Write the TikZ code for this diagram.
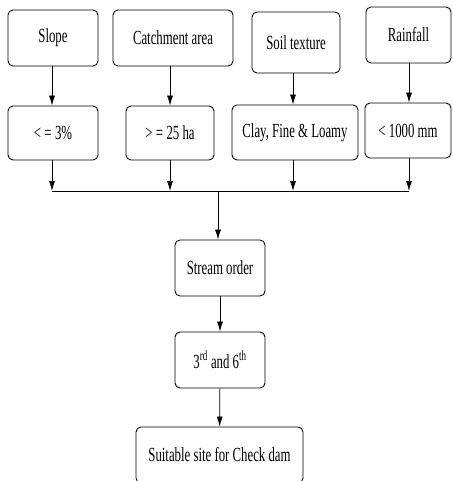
\documentclass[tikz,border=0pt]{standalone}
\usepackage{fontspec}
\setmainfont{Liberation Serif}[FakeStretch=0.64]
\usetikzlibrary{arrows.meta}
\tikzset{
  box/.style={draw, rounded corners=5pt, line width=0.9pt, align=center,
    inner sep=0pt, font=\fontsize{20}{22}\selectfont},
  flow/.style={line width=0.7pt, -{Latex[length=10pt,width=6pt]}}
}
\begin{document}
\begin{tikzpicture}[x=1pt,y=-1pt]
                \useasboundingbox (0,0) rectangle (452,481);

                \node[box, minimum width=90pt, minimum height=56pt] (slope) at (53, 38) {Slope};
                \node[box, minimum width=120pt, minimum height=56pt] (catch) at (173, 38) {Catchment area};
                \node[box, minimum width=88pt, minimum height=61pt] (soil) at (296, 42.5) {Soil texture};
                \node[box, minimum width=85pt, minimum height=56pt] (rain) at (408.5, 35) {Rainfall};

                \node[box, minimum width=90pt, minimum height=54pt] (slopeval) at (53, 133) {<\,=\,3\%};
                \node[box, minimum width=88pt, minimum height=54pt] (catchval) at (170, 133) {>\,=\,25 ha};
                \node[box, minimum width=126pt, minimum height=55pt] (soilval) at (295, 132.5) {Clay, Fine \& Loamy};
                \node[box, minimum width=86pt, minimum height=55pt] (rainval) at (408, 130.5) {<\,1000 mm};

                \node[box, minimum width=90pt, minimum height=56pt] (stream) at (220, 268) {Stream order};
                \node[box, minimum width=90pt, minimum height=56pt] (order) at (220, 360) {3\textsuperscript{rd} and 6\textsuperscript{th}};
                \node[box, minimum width=167pt, minimum height=56pt] (site) at (219.5, 455) {Suitable site for Check dam};

                \coordinate (j1) at (52, 191);
                \coordinate (j2) at (170, 191);
                \coordinate (j3) at (293, 191);
                \coordinate (j4) at (409, 191);
                \coordinate (jm) at (218, 191);

                \draw[flow] (slope.south -| j1) -- (slopeval.north -| j1);
                \draw[flow] (catch.south -| j2) -- (catchval.north -| j2);
                \draw[flow] (soil.south -| j3) -- (soilval.north -| j3);
                \draw[flow] (rain.south -| j4) -- (rainval.north -| j4);

                \draw[flow] (slopeval.south -| j1) -- (j1);
                \draw[flow] (catchval.south -| j2) -- (j2);
                \draw[flow] (soilval.south -| j3) -- (j3);
                \draw[flow] (rainval.south -| j4) -- (j4);
                \draw[line width=0.7pt] (j1) -- (j4);

                \draw[flow] (jm) -- (stream.north -| jm);
                \draw[flow] (stream) -- (order);
                \draw[flow] (order) -- (site);
\end{tikzpicture}
\end{document}
